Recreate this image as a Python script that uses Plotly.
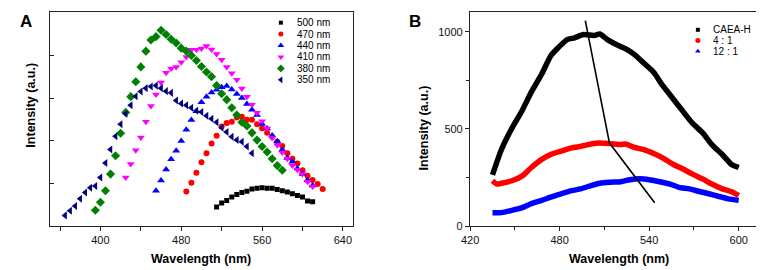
import plotly.graph_objects as go

# ---------------- Panel A data (excitation-dependent emission) ----------------
wl_500 = [515, 520, 525, 530, 535, 540, 545, 550, 555, 560, 565, 570, 575, 580, 585, 590, 595, 600, 605, 610]
int_500 = [0.45, 0.54, 0.60, 0.68, 0.74, 0.79, 0.82, 0.87, 0.89, 0.90, 0.89, 0.89, 0.86, 0.83, 0.80, 0.76, 0.72, 0.68, 0.59, 0.57]

wl_470 = [485, 490, 495, 500, 505, 510, 515, 520, 525, 530, 535, 540, 545, 550, 555, 560, 565, 570, 575, 580,
          585, 590, 595, 600, 605, 610, 615, 620]
int_470 = [0.81, 1.02, 1.25, 1.50, 1.71, 1.94, 2.12, 2.34, 2.42, 2.45, 2.55, 2.57, 2.50, 2.50, 2.39, 2.30, 2.19, 2.10,
           1.98, 1.88, 1.71, 1.58, 1.47, 1.31, 1.18, 1.08, 0.99, 0.87]

wl_440 = [455, 460, 465, 470, 475, 480, 485, 490, 495, 500, 505, 510, 515, 520, 525, 530, 535, 540, 545, 550,
          555, 560, 565, 570, 575, 580, 585, 590, 595, 600, 605, 610]
int_440 = [0.83, 1.07, 1.33, 1.57, 1.77, 2.00, 2.26, 2.49, 2.70, 2.91, 3.04, 3.14, 3.20, 3.26, 3.29, 3.21, 3.10, 3.01,
           2.87, 2.73, 2.61, 2.40, 2.29, 2.13, 1.99, 1.79, 1.60, 1.51, 1.35, 1.22, 1.08, 0.95]

wl_410 = [425, 430, 435, 440, 445, 450, 455, 460, 465, 470, 475, 480, 485, 490, 495, 500, 505, 510, 515, 520,
          525, 530, 535, 540, 545, 550, 555, 560, 565, 570, 575, 580, 585, 590, 595, 600, 605, 610]
int_410 = [1.14, 1.46, 1.78, 2.08, 2.45, 2.82, 3.09, 3.37, 3.60, 3.70, 3.74, 3.85, 3.97, 4.14, 4.14, 4.17, 4.23, 4.15,
           4.04, 3.91, 3.74, 3.59, 3.44, 3.23, 3.04, 2.85, 2.66, 2.46, 2.29, 2.07, 1.90, 1.73, 1.58, 1.42, 1.32,
           1.22, 1.04, 0.93]

wl_380 = [395, 400, 405, 410, 415, 420, 425, 430, 435, 440, 445, 450, 455, 460, 465, 470, 475, 480, 485, 490,
          495, 500, 505, 510, 515, 520, 525, 530, 535, 540, 545, 550, 555, 560, 565, 570, 575, 580]
int_380 = [0.37, 0.56, 0.83, 1.22, 1.65, 2.18, 2.67, 3.04, 3.39, 3.74, 4.11, 4.37, 4.45, 4.60, 4.50, 4.39, 4.30, 4.18,
           4.11, 4.01, 3.89, 3.75, 3.62, 3.51, 3.30, 3.11, 2.97, 2.78, 2.61, 2.44, 2.35, 2.19, 2.02, 1.87, 1.74,
           1.58, 1.42, 1.31]

wl_350 = [365, 370, 375, 380, 385, 390, 395, 400, 405, 410, 415, 420, 425, 430, 435, 440, 445, 450, 455, 460,
          465, 470, 475, 480, 485, 490, 495, 500, 505, 510, 515, 520, 525, 530, 535, 540, 545, 550]
int_350 = [0.25, 0.36, 0.47, 0.64, 0.79, 0.90, 0.94, 1.14, 1.48, 1.80, 2.11, 2.39, 2.64, 2.84, 3.05, 3.16, 3.24, 3.28,
           3.30, 3.24, 3.17, 3.13, 2.95, 2.88, 2.84, 2.78, 2.71, 2.68, 2.59, 2.52, 2.44, 2.31, 2.21, 2.10, 2.02,
           1.98, 1.87, 1.71]

series_a_names = ["500 nm", "470 nm", "440 nm", "410 nm", "380 nm", "350 nm"]
series_a_colors = ["#000000", "#ff0000", "#0000ff", "#ff00ff", "#008000", "#000080"]
series_a_symbols = ["square", "circle", "triangle-up", "triangle-down", "diamond", "triangle-left"]
series_a_sizes = [5, 6, 7, 7, 7, 7]
series_a_x = [wl_500, wl_470, wl_440, wl_410, wl_380, wl_350]
series_a_y = [int_500, int_470, int_440, int_410, int_380, int_350]

a_xticks = [400, 480, 560, 640]
a_xminor = [360, 440, 520, 600]
a_yticks = [1, 2, 3, 4]

# ---------------- Panel B data ----------------
wl_caea = [435, 441, 448, 455, 461, 468, 474, 479, 485, 490, 496, 503, 507, 512, 518, 525, 530, 536, 543, 549,
           556, 562, 569, 576, 582, 589, 595, 600]
int_caea = [263, 394, 503, 596, 689, 782, 875, 917, 959, 968, 985, 980, 988, 959, 934, 909, 883, 841, 791, 723,
            655, 596, 529, 478, 419, 368, 318, 301]

wl_41 = [435, 438, 441, 448, 455, 461, 468, 474, 481, 488, 494, 501, 507, 514, 521, 524, 530, 536, 543, 549,
         556, 563, 569, 576, 582, 589, 596, 600]
int_41 = [233, 216, 220, 233, 258, 301, 343, 368, 385, 402, 410, 422, 427, 424, 419, 422, 405, 394, 373, 351,
          318, 292, 267, 242, 216, 191, 174, 157]

wl_121 = [435, 441, 448, 455, 461, 468, 474, 481, 488, 494, 501, 507, 514, 521, 527, 534, 540, 547, 554, 560,
          567, 573, 580, 587, 593, 600]
int_121 = [68, 69, 81, 95, 115, 132, 149, 166, 182, 191, 208, 220, 225, 228, 238, 243, 238, 228, 216, 199,
           191, 179, 166, 152, 140, 132]

series_b_names = ["CAEA-H", "4 : 1", "12 : 1"]
series_b_colors = ["#000000", "#ff0000", "#0000ff"]
series_b_symbols = ["square", "circle", "triangle-up"]
series_b_x = [wl_caea, wl_41, wl_121]
series_b_y = [int_caea, int_41, int_121]

trend_x = [497.2, 513.4, 543.7]
trend_y = [1057, 427, 120]

b_xticks = [420, 480, 540, 600]
b_xminor = [450, 510, 570]
b_yticks = [0, 500, 1000]
b_yminor = [250, 750]

FONT = "Arial, 'Liberation Sans', sans-serif"
W, H = 764, 270

fig = go.Figure()

# Panel A scatter
for name, col, sym, sz, xs, ys in zip(series_a_names, series_a_colors, series_a_symbols,
                                       series_a_sizes, series_a_x, series_a_y):
    fig.add_trace(go.Scatter(x=xs, y=ys, mode="markers", name=name, showlegend=False,
                             marker=dict(color=col, symbol=sym, size=sz, line=dict(width=0)),
                             xaxis="x", yaxis="y"))

# Panel B thick curves
for name, col, xs, ys in zip(series_b_names, series_b_colors, series_b_x, series_b_y):
    fig.add_trace(go.Scatter(x=xs, y=ys, mode="lines", name=name, showlegend=False,
                             line=dict(color=col, width=5.5, shape="spline", smoothing=0.6),
                             xaxis="x2", yaxis="y2"))
fig.add_trace(go.Scatter(x=trend_x, y=trend_y, mode="lines", showlegend=False,
                         line=dict(color="#000000", width=1.6), xaxis="x2", yaxis="y2"))

# Manual legends on a pixel overlay axis
leg_a_x, leg_a_tx, leg_a_y0, leg_a_dy = 267, 281, 15, 11.7
for i, (name, col, sym, sz) in enumerate(zip(series_a_names, series_a_colors, series_a_symbols, series_a_sizes)):
    yy = leg_a_y0 + i * leg_a_dy
    fig.add_trace(go.Scatter(x=[leg_a_x], y=[yy], mode="markers", showlegend=False,
                             marker=dict(color=col, symbol=sym, size=sz - 1, line=dict(width=0)),
                             xaxis="x3", yaxis="y3", hoverinfo="skip"))
    fig.add_annotation(x=leg_a_tx, y=yy, xref="x3", yref="y3", text=name, showarrow=False,
                       xanchor="left", yanchor="middle", font=dict(family=FONT, size=10, color="#000"))

leg_b_x, leg_b_tx, leg_b_y0, leg_b_dy = 689, 702, 22.3, 11
leg_b_sizes = [4, 5, 5]
for i, (name, col, sym, sz) in enumerate(zip(series_b_names, series_b_colors, series_b_symbols, leg_b_sizes)):
    yy = leg_b_y0 + i * leg_b_dy
    fig.add_trace(go.Scatter(x=[leg_b_x], y=[yy], mode="markers", showlegend=False,
                             marker=dict(color=col, symbol=sym, size=sz, line=dict(width=0)),
                             xaxis="x3", yaxis="y3", hoverinfo="skip"))
    fig.add_annotation(x=leg_b_tx, y=yy, xref="x3", yref="y3", text=name, showarrow=False,
                       xanchor="left", yanchor="middle", font=dict(family=FONT, size=10, color="#000"))

# Titles / labels
def label(text, x, y, size=12.5, angle=0, bold=True):
    fig.add_annotation(x=x, y=y, xref="x3", yref="y3", text=f"<b>{text}</b>" if bold else text,
                       showarrow=False, textangle=angle, xanchor="center", yanchor="middle",
                       font=dict(family=FONT, size=size, color="#000"))

label("A", 9, 14, size=17)
label("B", 403, 14, size=17)
label("Wavelength (nm)", 186.5, 257)
label("Wavelength (nm)", 608.7, 257)
label("Intensity (a.u.)", 14, 99, angle=-90)
label("Intensity (a.u.)", 412, 123, angle=-90)

axis_common = dict(showline=True, linecolor="#222", linewidth=1.3, mirror=True, showgrid=False,
                   zeroline=False, tickcolor="#222", tickfont=dict(family=FONT, size=11, color="#111"))

y_bottom = 1 - 223 / H
y_top = 1 - 4.5 / H

fig.update_layout(
    width=W, height=H,
    margin=dict(l=0, r=0, t=0, b=0),
    paper_bgcolor="white", plot_bgcolor="rgba(0,0,0,0)",
    showlegend=False,
    xaxis=dict(domain=[33.3 / W, 340 / W], range=[350, 650], anchor="y",
               tickmode="array", tickvals=a_xticks, ticks="outside", ticklen=4, tickwidth=1.2,
               minor=dict(tickvals=a_xminor, ticks="outside", ticklen=4, tickcolor="#222", tickwidth=1.2),
               **axis_common),
    yaxis=dict(domain=[y_bottom, y_top], range=[0, 5.02], anchor="x",
               tickmode="array", tickvals=a_yticks, ticktext=["", "", "", ""], ticks="inside",
               ticklen=4, tickwidth=1.2, **axis_common),
    xaxis2=dict(domain=[458.5 / W, 759 / W], range=[420, 619], anchor="y2",
                tickmode="array", tickvals=b_xticks, ticks="outside", ticklen=4, tickwidth=1.2,
                minor=dict(tickvals=b_xminor, ticks="outside", ticklen=3, tickcolor="#222", tickwidth=1.2),
                **axis_common),
    yaxis2=dict(domain=[y_bottom, y_top], range=[0, 1099], anchor="x2",
                tickmode="array", tickvals=b_yticks, ticks="outside", ticklen=4, tickwidth=1.2,
                minor=dict(tickvals=b_yminor, ticks="outside", ticklen=3, tickcolor="#222", tickwidth=1.2),
                **axis_common),
    xaxis3=dict(domain=[0, 1], range=[0, W], visible=False, anchor="y3", fixedrange=True),
    yaxis3=dict(domain=[0, 1], range=[H, 0], visible=False, anchor="x3", fixedrange=True),
)

fig.write_html("out.html")
